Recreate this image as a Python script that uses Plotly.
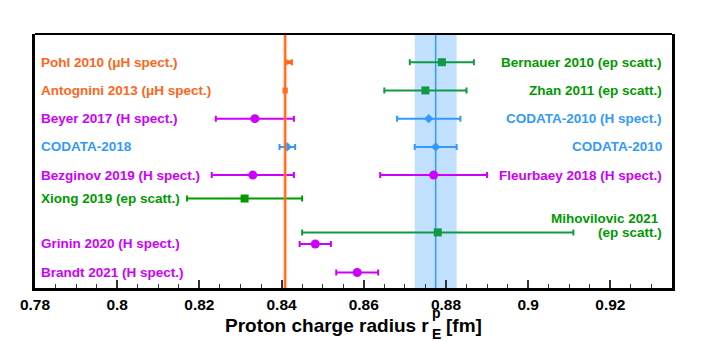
import plotly.graph_objects as go

# measurements of the proton charge radius [fm]
labels = ["Pohl 2010 (μH spect.)", "Antognini 2013 (μH spect.)", "Beyer 2017 (H spect.)",
          "CODATA-2018", "Bezginov 2019 (H spect.)", "Xiong 2019 (ep scatt.)",
          "Grinin 2020 (H spect.)", "Brandt 2021 (H spect.)",
          "Bernauer 2010 (ep scatt.)", "Zhan 2011 (ep scatt.)", "CODATA-2010 (H spect.)",
          "CODATA-2010", "Fleurbaey 2018 (H spect.)", "Mihovilovic 2021<br>(ep scatt.)"]
radius = [0.84184, 0.84087, 0.8335, 0.8414, 0.8330, 0.8310, 0.8482, 0.8584,
          0.8790, 0.8750, 0.8758, 0.8775, 0.8770, 0.8780]
error = [0.00067, 0.00039, 0.0095, 0.0019, 0.0100, 0.0140, 0.0038, 0.0051,
         0.0078, 0.0100, 0.0077, 0.0051, 0.0130, 0.0330]
row = [8, 7, 6, 5, 4, 3.17, 1.56, 0.55,
       8, 7, 6, 5, 4, 1.97]
side = ["left"] * 8 + ["right"] * 6
kind = ["muH", "muH", "H", "codata", "H", "ep2", "H", "H",
        "ep", "ep", "codata", "codata", "H", "ep"]

muH_value, muH_err = radius[1], error[1]
codata10_value, codata10_err = radius[11], error[11]

ORANGE = "#FF6619"
MAGENTA = "#CC00FF"
BLUE = "#3399FF"
GREEN_TXT = "#009900"
style = {
    "muH": dict(color=ORANGE, line=ORANGE, text=ORANGE, symbol="square", size=4),
    "H": dict(color=MAGENTA, line=MAGENTA, text=MAGENTA, symbol="circle", size=9),
    "codata": dict(color=BLUE, line=BLUE, text=BLUE, symbol="diamond", size=7),
    "ep": dict(color="#119944", line="#119944", text=GREEN_TXT, symbol="square", size=8),
    "ep2": dict(color=GREEN_TXT, line=GREEN_TXT, text=GREEN_TXT, symbol="square", size=8),
}

# page body has an 8px margin, so the figure is drawn 8px in from the window corner
OFF = 8
W, H = 708 - OFF, 341 - OFF
L, T = 35 - OFF, 34 - OFF
pw, ph = 637, 254
R, B = W - L - pw, H - T - ph


def px(x):
    return (x - OFF - L) / pw


def py(y):
    return (T + ph - (y - OFF)) / ph


fig = go.Figure()

for lab, v, e, yv, s, k in zip(labels, radius, error, row, side, kind):
    st = style[k]
    fig.add_trace(go.Scatter(
        x=[v], y=[yv], mode="markers",
        marker=dict(color=st["color"], symbol=st["symbol"], size=st["size"], line=dict(width=0)),
        error_x=dict(type="data", array=[e], color=st["line"], thickness=2, width=3),
        showlegend=False, hoverinfo="skip"))
    lines = lab.split("<br>")
    for i, txt in enumerate(lines):
        fig.add_annotation(
            text=txt, xref="paper", yref="y",
            x=px(39) if s == "left" else px(664 - (3 if i < len(lines) - 1 else 0)), y=yv,
            xanchor="left" if s == "left" else "right", yanchor="middle",
            yshift=13.5 * (len(lines) - 1 - i), showarrow=False,
            font=dict(family="Liberation Sans", size=13.5, color=st["text"], weight="bold"))

# CODATA-2010 band and line, muonic hydrogen line
fig.add_shape(type="rect", xref="x", yref="paper",
              x0=codata10_value - codata10_err, x1=codata10_value + codata10_err, y0=0, y1=1,
              fillcolor="#C2E0FF", line=dict(width=0), layer="below")
fig.add_shape(type="line", xref="x", yref="paper", x0=codata10_value, x1=codata10_value,
              y0=0, y1=1, line=dict(color=BLUE, width=1.5), layer="below")
fig.add_shape(type="line", xref="x", yref="paper", x0=muH_value, x1=muH_value,
              y0=0, y1=1, line=dict(color="rgba(255,140,60,0.45)", width=4), layer="above")
fig.add_shape(type="line", xref="x", yref="paper", x0=muH_value, x1=muH_value,
              y0=0, y1=1, line=dict(color=ORANGE, width=1.8), layer="above")
fig.add_shape(type="line", xref="paper", yref="paper", x0=0, x1=1, y0=1, y1=1,
              line=dict(color="black", width=2))

# axis title with stacked r^p_E
tf = dict(family="Liberation Sans", color="black", weight="bold")
fig.add_annotation(text="Proton charge radius r", xref="paper", yref="paper",
                   x=px(431), y=py(325), xanchor="right", yanchor="middle",
                   showarrow=False, font=dict(size=19, **tf))
fig.add_annotation(text="p", xref="paper", yref="paper", x=px(436), y=py(313),
                   xanchor="center", yanchor="middle", showarrow=False, font=dict(size=14, **tf))
fig.add_annotation(text="E", xref="paper", yref="paper", x=px(436), y=py(333.5),
                   xanchor="center", yanchor="middle", showarrow=False, font=dict(size=14, **tf))
fig.add_annotation(text="[fm]", xref="paper", yref="paper", x=px(444), y=py(325),
                   xanchor="left", yanchor="middle", showarrow=False, font=dict(size=19, **tf))

fig.update_layout(
    width=W, height=H, margin=dict(l=L, r=R, t=T, b=B),
    plot_bgcolor="white", paper_bgcolor="white")
fig.update_xaxes(range=[0.78, 0.935], tick0=0.78, dtick=0.02, ticks="inside", ticklen=8,
                 tickwidth=1.5, tickcolor="#333", showgrid=False, zeroline=False,
                 showline=True, linewidth=3, linecolor="black",
                 tickfont=dict(family="Liberation Sans", size=15.5, color="black", weight="bold"),
                 minor=dict(dtick=0.005, ticks="inside", ticklen=4, tickwidth=1, tickcolor="#333"))
fig.update_yaxes(range=[0, 9], showticklabels=False, ticks="", showgrid=False, zeroline=False,
                 showline=True, linewidth=3, linecolor="black", mirror=True)

fig.write_html("out.html")
